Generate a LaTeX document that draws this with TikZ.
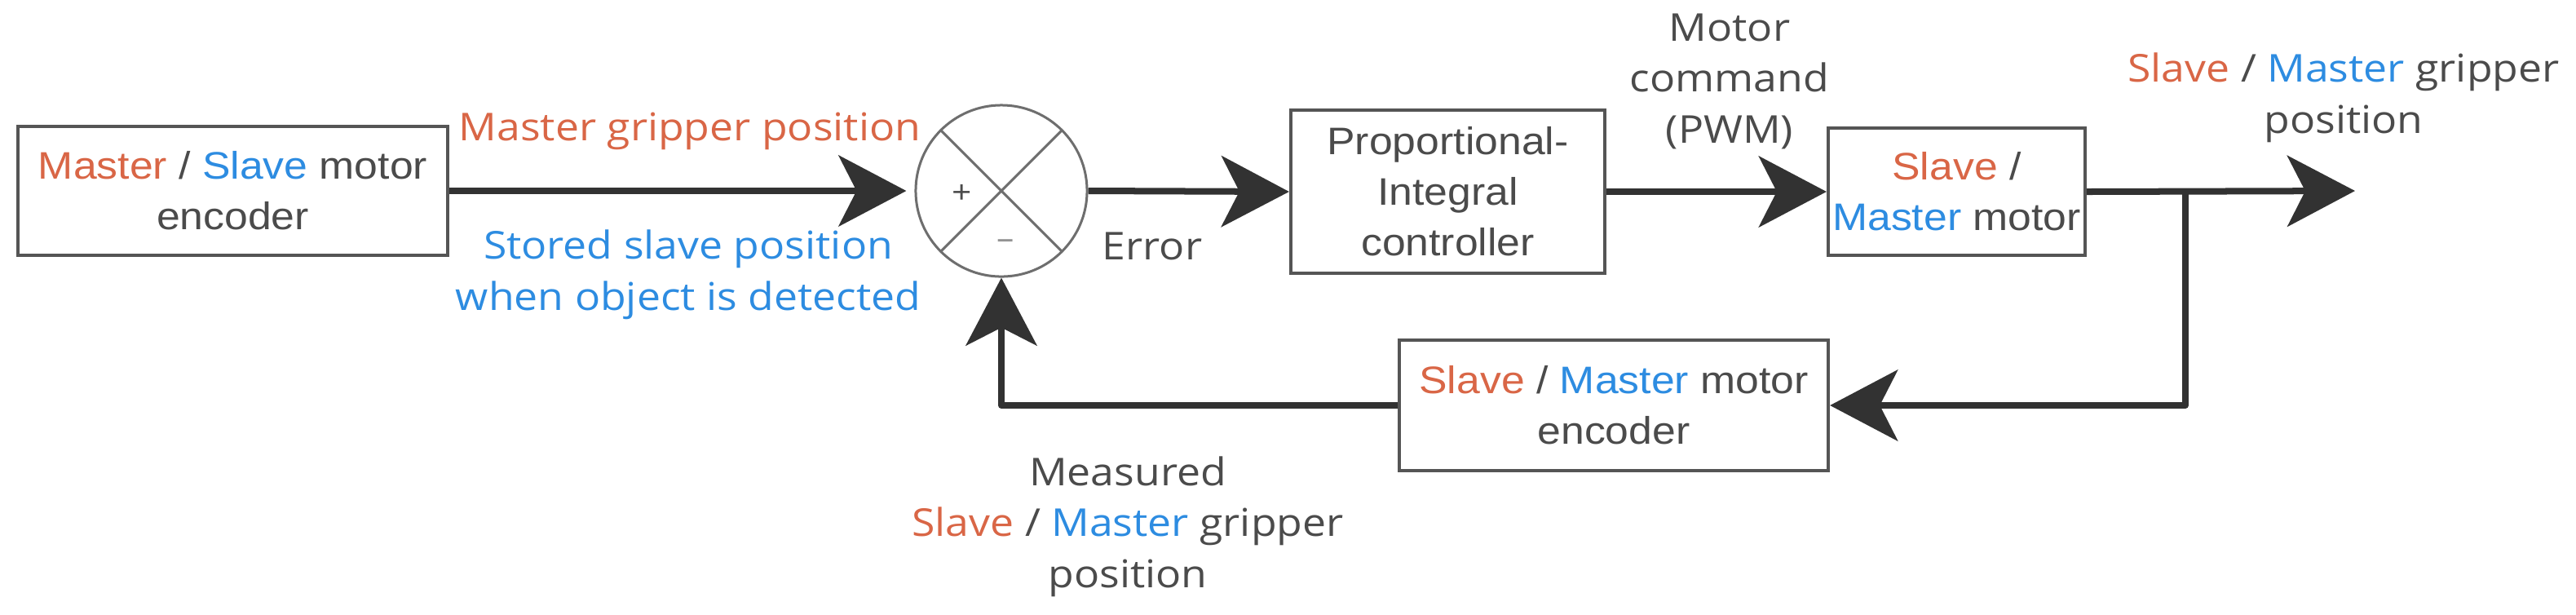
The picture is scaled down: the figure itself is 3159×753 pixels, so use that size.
\documentclass[tikz,border=0pt]{standalone}
\usepackage{fontspec}
\usetikzlibrary{arrows.meta}
\newfontfamily\boxfont[FakeStretch=1.1]{Liberation Sans}
\newfontfamily\labfont[FakeStretch=1.1]{Open Sans}
\newcommand\myfs{\fontsize{13.37pt}{17.64pt}\selectfont}
\definecolor{orng}{RGB}{217,102,70}
\definecolor{blu}{RGB}{45,140,225}
\definecolor{txt}{RGB}{75,75,75}
\definecolor{lnc}{RGB}{50,50,50}
\definecolor{bord}{RGB}{85,85,85}
\tikzset{
  blk/.style={draw=bord, line width=0.04cm, fill=white, inner sep=0pt, align=center,
              font=\boxfont\myfs, text=txt},
  lab/.style={font=\labfont\myfs, text=txt, align=center, inner sep=0pt},
  conn/.style={draw=lnc, line width=0.08cm, line join=round,
               -{Stealth[length=0.83cm, width=0.87cm, inset=0.22cm]}},
  wire/.style={draw=lnc, line width=0.075cm, line join=round},
}
\begin{document}
\begin{tikzpicture}[x=0.01cm, y=-0.01cm]
\fill[white] (0,0) rectangle (3159,753);
\useasboundingbox (0,0) rectangle (3159,753);

% blocks
\node[blk, minimum width=5.27cm, minimum height=1.58cm] (lbox) at (285.5,234)
  {{\color{orng}Master} / {\color{blu}Slave} motor\\encoder};
\node[circle, draw=bord!85, line width=0.03cm, minimum size=2.10cm, inner sep=0pt] (sum) at (1228,234) {};
\draw[draw=bord!85, line width=0.03cm] (sum.north west) -- (sum.south east);
\draw[draw=bord!85, line width=0.03cm] (sum.north east) -- (sum.south west);
\node[font=\labfont\fontsize{11pt}{12pt}\selectfont, text=txt, inner sep=0pt] (plus) at (1180,238) {+};
\node[font=\labfont\fontsize{11pt}{12pt}\selectfont, text=txt!60, inner sep=0pt] (minus) at (1233,300) {–};
\node[blk, minimum width=3.85cm, minimum height=2.00cm] (pi) at (1775.5,235)
  {Proportional-\\Integral\\controller};
\node[blk, minimum width=3.15cm, minimum height=1.56cm] (motor) at (2399.5,235)
  {{\color{orng}Slave} /\\{\color{blu}Master} motor};
\node[blk, minimum width=5.26cm, minimum height=1.60cm] (enc) at (1979,497)
  {{\color{orng}Slave} / {\color{blu}Master} motor\\encoder};

\coordinate (br) at (2680,234);
\coordinate (out) at (2888,234);

% connectors
\draw[conn, shorten >=0.1cm] (lbox.east) -- (sum.west);
\draw[conn] (sum.east) -- (pi.west);
\draw[conn] (pi.east) -- (motor.west);
\draw[conn] (motor.east) -- (out);
\draw[conn] (br) |- (enc.east);
\draw[conn] (enc.west) -| (sum.south);

% labels
\node[lab, anchor=base, text=orng] (l1) at (846,172) {Master gripper position};
\node[lab, anchor=base, text=blu] (l2) at (844,380) {Stored slave position\\when object is detected};
\node[lab, anchor=base] (l3) at (1413,318) {Error};
\node[lab, anchor=base] (l4) at (2121,175) {Motor\\command\\(PWM)};
\node[lab, anchor=base] (l5) at (2874,163) {{\color{orng}Slave} / {\color{blu}Master} gripper\\position};
\node[lab, anchor=base] (l6) at (1383,720) {Measured\\{\color{orng}Slave} / {\color{blu}Master} gripper\\position};
\end{tikzpicture}
\end{document}
